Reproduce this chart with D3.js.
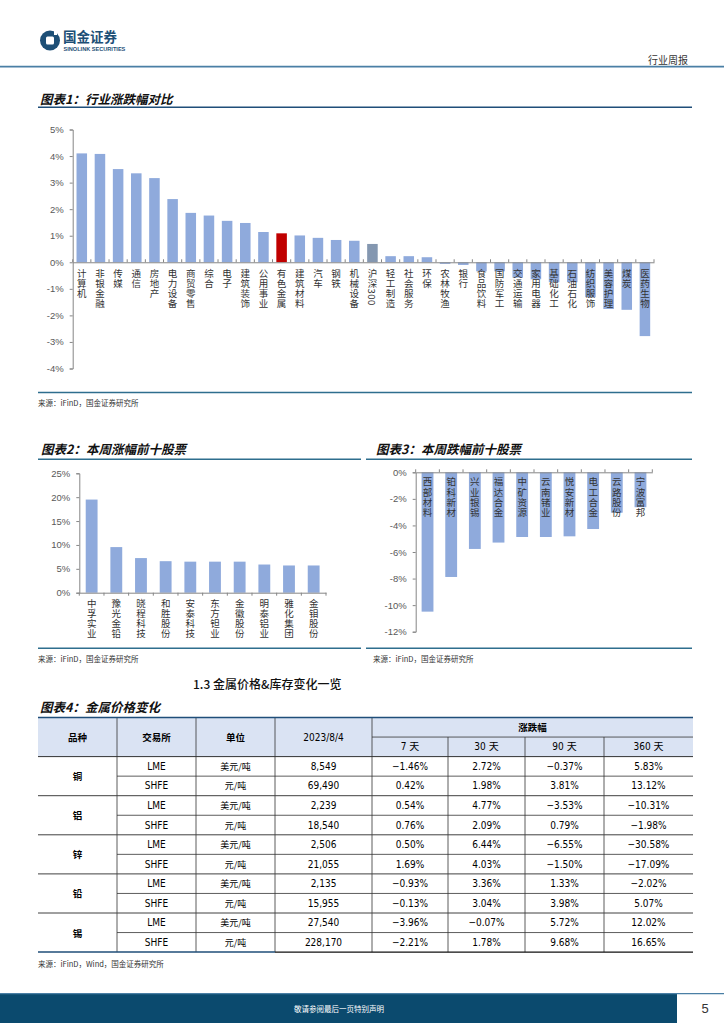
<!DOCTYPE html>
<html><head><meta charset="utf-8">
<script src="https://cdn.jsdelivr.net/npm/d3@7"></script>
<style>body{margin:0;background:#fff}svg{display:block}</style>
</head><body><svg id="c" width="724" height="1024"></svg>
<script>
// ---------- DATA ----------
const industryNames = ["计算机","非银金融","传媒","通信","房地产","电力设备","商贸零售","综合","电子","建筑装饰","公用事业","有色金属","建筑材料","汽车","钢铁","机械设备","沪深300","轻工制造","社会服务","环保","农林牧渔","银行","食品饮料","国防军工","交通运输","家用电器","基础化工","石油石化","纺织服饰","美容护理","煤炭","医药生物"];
const industryValues = [4.10,4.08,3.51,3.35,3.17,2.38,1.86,1.76,1.56,1.48,1.14,1.09,1.01,0.92,0.84,0.81,0.69,0.23,0.23,0.19,-0.06,-0.10,-0.34,-0.34,-0.58,-0.64,-0.75,-0.75,-1.31,-1.76,-1.79,-2.78];
const industryTicks = [5,4,3,2,1,0,-1,-2,-3,-4];
const highlightName = "有色金属";
const indexName = "沪深300";

const gainerNames = ["中孚实业","豫光金铅","晓程科技","和胜股份","安泰科技","东方钽业","金徽股份","明泰铝业","雅化集团","金钼股份"];
const gainerValues = [19.5,9.55,7.25,6.6,6.5,6.5,6.5,5.9,5.7,5.7];
const gainerTicks = [0,5,10,15,20,25];

const loserNames = ["西部材料","铂科新材","兴业银锡","福达合金","中矿资源","云南锗业","悦安新材","电工合金","云路股份","宁波富邦"];
const loserValues = [-10.49,-7.88,-5.77,-5.29,-4.87,-4.87,-4.82,-4.27,-3.04,-2.63];
const loserTicks = [0,-2,-4,-6,-8,-10,-12];

const tableHeaders = ["品种","交易所","单位","2023/8/4"];
const changeHeader = "涨跌幅";
const periodHeaders = ["7 天","30 天","90 天","360 天"];
const metals = ["铜","铝","锌","铅","锡"];
const exchanges = ["LME","SHFE","LME","SHFE","LME","SHFE","LME","SHFE","LME","SHFE"];
const units = ["美元/吨","元/吨","美元/吨","元/吨","美元/吨","元/吨","美元/吨","元/吨","美元/吨","元/吨"];
const prices = [8549,69490,2239,18540,2506,21055,2135,15955,27540,228170];
const chg7 = [-1.46,0.42,0.54,0.76,0.50,1.69,-0.93,-0.13,-3.96,-2.21];
const chg30 = [2.72,1.98,4.77,2.09,6.44,4.03,3.36,3.04,-0.07,1.78];
const chg90 = [-0.37,3.81,-3.53,0.79,-6.55,-1.50,1.33,3.98,5.72,9.68];
const chg360 = [5.83,13.12,-10.31,-1.98,-30.58,-17.09,-2.02,5.07,12.02,16.65];

// ---------- STYLE ----------
const CJK = "'Noto Sans CJK SC','Noto Sans',sans-serif";
const LAT = "'Liberation Sans',Arial,sans-serif";
const NARROW = "'DejaVu Sans Condensed','Liberation Sans Narrow','Noto Sans CJK SC',sans-serif";
const BAR = "#8FAADC", RED = "#C00000", GREYBAR = "#8497B0";
const DARKBLUE = "#1F4E79", TEAL = "#2E6E8E";

const svg = d3.select("#c");
svg.append("rect").attr("width",724).attr("height",1024).attr("fill","#fff");

// ---------- HEADER ----------
const logo = svg.append("g");
logo.append("circle").attr("cx",50).attr("cy",40.5).attr("r",10).attr("fill","#1D4F76");
logo.append("rect").attr("x",46).attr("y",36.5).attr("width",8).attr("height",8).attr("rx",1.5).attr("fill","#fff");
logo.append("rect").attr("x",54).attr("y",29).attr("width",3).attr("height",6).attr("fill","#fff");
svg.append("text").attr("x",63).attr("y",35.5).attr("dominant-baseline","central")
  .attr("font-family",CJK).attr("font-weight","bold").attr("font-size",13.5).attr("fill","#1D4F76").text("国金证券");
svg.append("text").attr("x",63.5).attr("y",49).attr("dominant-baseline","central")
  .attr("font-family",LAT).attr("font-weight","bold").attr("font-size",5.6).attr("fill","#1D4F76").text("SINOLINK SECURITIES");
svg.append("text").attr("x",688).attr("y",59).attr("text-anchor","end").attr("dominant-baseline","central")
  .attr("font-family",CJK).attr("font-size",10).attr("fill","#333").text("行业周报");
svg.append("line").attr("x1",0).attr("x2",724).attr("y1",66.7).attr("y2",66.7).attr("stroke","#4A7FA5").attr("stroke-width",1.8);

function title(x,y,t){
  svg.append("text").attr("x",x).attr("y",y).attr("dominant-baseline","central")
    .attr("font-family",CJK).attr("font-weight","bold").attr("font-style","italic")
    .attr("font-size",12.5).attr("fill","#111").text(t);
}
function hline(x1,x2,y,c,w){
  svg.append("line").attr("x1",x1).attr("x2",x2).attr("y1",y).attr("y2",y).attr("stroke",c).attr("stroke-width",w);
}
function source(x,y,t){
  svg.append("text").attr("x",x).attr("y",y).attr("dominant-baseline","central")
    .attr("font-family",CJK).attr("font-size",7.5).attr("fill","#333").text(t);
}
// vertical label as one text element in vertical writing mode
function vertLabels(g,names,xpos,top,size,spacing){
  g.selectAll(null).data(names).join("text")
    .attr("x",d=>xpos(d)).attr("y",top)
    .style("writing-mode","vertical-rl")
    .attr("text-anchor","start")
    .attr("font-family",CJK).attr("font-size",size)
    .attr("letter-spacing",spacing)
    .attr("fill","#333").text(d=>d);
}
function styleAxis(g){
  g.select(".domain").attr("stroke","#868686");
  g.selectAll(".tick line").attr("stroke","#868686");
  g.selectAll(".tick text").attr("font-family",LAT).attr("font-size",9.5).attr("fill","#595959");
}

// ---------- CHART 1 ----------
title(40,98.3,"图表1：行业涨跌幅对比");
hline(38,692,107.3,DARKBLUE,1.5);
{
  const x = d3.scaleBand().domain(industryNames).range([72.7,654]).paddingInner(0.42).paddingOuter(0.21);
  const y = d3.scaleLinear().domain([-4,5]).range([368.5,129.5]);
  const g = svg.append("g");
  g.selectAll("rect.bar").data(industryNames).join("rect")
    .attr("x",d=>x(d)).attr("width",x.bandwidth())
    .attr("y",(d,i)=>y(Math.max(0,industryValues[i])))
    .attr("height",(d,i)=>Math.abs(y(industryValues[i])-y(0)))
    .attr("fill",d=>d===highlightName?RED:(d===indexName?GREYBAR:BAR));
  const ya = g.append("g").attr("transform","translate(72.7,0)")
    .call(d3.axisLeft(y).tickValues(industryTicks).tickFormat(d=>d+"%").tickSize(3).tickPadding(6));
  styleAxis(ya);
  const xa = g.append("g").attr("transform",`translate(0,${y(0)})`)
    .call(d3.axisBottom(x).tickSize(0).tickFormat(""));
  xa.select(".domain").attr("stroke","#868686");
  const step = x.step();
  g.selectAll("line.tk").data(d3.range(industryNames.length+1)).join("line")
    .attr("x1",i=>72.7+i*step).attr("x2",i=>72.7+i*step)
    .attr("y1",y(0)).attr("y2",y(0)-3).attr("stroke","#868686");
  vertLabels(g,industryNames,d=>x(d)+x.bandwidth()/2,268.5,9.5,0.5);
}
hline(38,692,392.5,TEAL,1.5);
source(38,402,"来源：iFinD，国金证券研究所");

// ---------- CHART 2 ----------
title(41,448,"图表2：本周涨幅前十股票");
hline(38,361,459.3,TEAL,1.5);
{
  const x = d3.scaleBand().domain(gainerNames).range([79.3,326]).paddingInner(0.52).paddingOuter(0.26);
  const y = d3.scaleLinear().domain([0,25]).range([592.7,473.3]);
  const g = svg.append("g");
  g.selectAll("rect").data(gainerNames).join("rect")
    .attr("x",d=>x(d)).attr("width",x.bandwidth())
    .attr("y",(d,i)=>y(gainerValues[i])).attr("height",(d,i)=>y(0)-y(gainerValues[i]))
    .attr("fill",BAR);
  const ya = g.append("g").attr("transform","translate(79.3,0)")
    .call(d3.axisLeft(y).tickValues(gainerTicks).tickFormat(d=>d+"%").tickSize(3).tickPadding(6));
  styleAxis(ya);
  const xa = g.append("g").attr("transform",`translate(0,${y(0)})`).call(d3.axisBottom(x).tickSize(0).tickFormat(""));
  xa.select(".domain").attr("stroke","#868686");
  const step = x.step();
  g.selectAll("line.tk").data(d3.range(gainerNames.length+1)).join("line")
    .attr("x1",i=>79.3+i*step).attr("x2",i=>79.3+i*step)
    .attr("y1",y(0)).attr("y2",y(0)+3).attr("stroke","#868686");
  vertLabels(g,gainerNames,d=>x(d)+x.bandwidth()/2,598.5,9.5,0.7);
}
hline(38,361,648.3,TEAL,1.5);
source(38,658,"来源：iFinD，国金证券研究所");

// ---------- CHART 3 ----------
title(376,448,"图表3：本周跌幅前十股票");
hline(366,692,459.3,TEAL,1.5);
{
  const x = d3.scaleBand().domain(loserNames).range([415.7,652.3]).paddingInner(0.5).paddingOuter(0.25);
  const y = d3.scaleLinear().domain([-12,0]).range([631.7,472.3]);
  const g = svg.append("g");
  g.selectAll("rect").data(loserNames).join("rect")
    .attr("x",d=>x(d)).attr("width",x.bandwidth())
    .attr("y",y(0)).attr("height",(d,i)=>y(loserValues[i])-y(0))
    .attr("fill",BAR);
  const ya = g.append("g").attr("transform","translate(415.7,0)")
    .call(d3.axisLeft(y).tickValues(loserTicks).tickFormat(d=>d+"%").tickSize(3).tickPadding(6));
  styleAxis(ya);
  const xa = g.append("g").attr("transform",`translate(0,${y(0)})`).call(d3.axisTop(x).tickSize(0).tickFormat(""));
  xa.select(".domain").attr("stroke","#868686");
  const step = x.step();
  g.selectAll("line.tk").data(d3.range(loserNames.length+1)).join("line")
    .attr("x1",i=>415.7+i*step).attr("x2",i=>415.7+i*step)
    .attr("y1",y(0)).attr("y2",y(0)-3).attr("stroke","#868686");
  vertLabels(g,loserNames,d=>x(d)+x.bandwidth()/2,477,9.5,0.8);
}
hline(366,692,648.3,TEAL,1.5);
source(373,658,"来源：iFinD，国金证券研究所");

// ---------- SECTION + TABLE ----------
svg.append("text").attr("x",193).attr("y",683).attr("dominant-baseline","central")
  .attr("font-family",CJK).attr("font-size",12).attr("fill","#111").attr("font-weight","500")
  .text("1.3 金属价格&库存变化一览");
title(40,706,"图表4：金属价格变化");
{
  const colX = [38,117,196,275,372,448,525,604,693];
  const top = 717.5, rowH = 19.55;
  const nRows = exchanges.length;
  const hdrBot = top + 2*rowH;
  const bottom = hdrBot + nRows*rowH;
  const cx = i => (colX[i]+colX[i+1])/2;
  const g = svg.append("g");
  const LINE = "#333";
  g.append("rect").attr("x",colX[0]).attr("y",top).attr("width",colX[8]-colX[0]).attr("height",2*rowH).attr("fill","#DAE3F3");
  [1,2,3,4].forEach(i=>g.append("line").attr("x1",colX[i]).attr("x2",colX[i]).attr("y1",top).attr("y2",hdrBot).attr("stroke",LINE).attr("stroke-width",0.8));
  [5,6,7].forEach(i=>g.append("line").attr("x1",colX[i]).attr("x2",colX[i]).attr("y1",top+rowH).attr("y2",hdrBot).attr("stroke",LINE).attr("stroke-width",0.8));
  g.append("line").attr("x1",colX[4]).attr("x2",colX[8]).attr("y1",top+rowH).attr("y2",top+rowH).attr("stroke",LINE).attr("stroke-width",0.8);
  g.append("line").attr("x1",colX[0]).attr("x2",colX[8]).attr("y1",top).attr("y2",top).attr("stroke",DARKBLUE).attr("stroke-width",1.5);
  g.append("line").attr("x1",colX[0]).attr("x2",colX[8]).attr("y1",hdrBot).attr("y2",hdrBot).attr("stroke",LINE).attr("stroke-width",1);
  tableHeaders.forEach((h,i)=>{
    g.append("text").attr("x",cx(i)).attr("y",top+rowH).attr("text-anchor","middle").attr("dominant-baseline","central")
      .attr("font-family",i===3?NARROW:CJK).attr("font-weight",i===3?"normal":"bold").attr("font-size",i===3?10:9.5).attr("fill","#000").text(h);
  });
  g.append("text").attr("x",(colX[4]+colX[8])/2).attr("y",top+rowH/2).attr("text-anchor","middle").attr("dominant-baseline","central")
    .attr("font-family",CJK).attr("font-weight","bold").attr("font-size",9.5).text(changeHeader);
  periodHeaders.forEach((h,i)=>{
    g.append("text").attr("x",cx(4+i)).attr("y",top+1.5*rowH).attr("text-anchor","middle").attr("dominant-baseline","central")
      .attr("font-family",NARROW).attr("font-size",10).text(h);
  });
  for(let i=1;i<=7;i++) g.append("line").attr("x1",colX[i]).attr("x2",colX[i]).attr("y1",hdrBot).attr("y2",bottom).attr("stroke",LINE).attr("stroke-width",0.8);
  for(let r=1;r<nRows;r++){
    const yy = hdrBot + r*rowH;
    const full = r%2===0;
    g.append("line").attr("x1",full?colX[0]:colX[1]).attr("x2",colX[8]).attr("y1",yy).attr("y2",yy)
      .attr("stroke",full?"#404040":LINE).attr("stroke-width",full?1:0.8);
  }
  g.append("line").attr("x1",colX[0]).attr("x2",colX[3]).attr("y1",bottom).attr("y2",bottom).attr("stroke",DARKBLUE).attr("stroke-width",1.5);
  g.append("line").attr("x1",colX[3]).attr("x2",colX[8]).attr("y1",bottom).attr("y2",bottom).attr("stroke","#111").attr("stroke-width",1.3);
  metals.forEach((m,k)=>{
    g.append("text").attr("x",cx(0)).attr("y",hdrBot+(2*k+1)*rowH).attr("text-anchor","middle").attr("dominant-baseline","central")
      .attr("font-family",CJK).attr("font-weight","bold").attr("font-size",9.5).text(m);
  });
  const pct = v => d3.format(".2f")(v)+"%";
  const cols = [exchanges, units, prices.map(d3.format(",")), chg7.map(pct), chg30.map(pct), chg90.map(pct), chg360.map(pct)];
  cols.forEach((arr,c)=>{
    g.selectAll(null).data(arr).join("text")
      .attr("x",cx(c+1)).attr("y",(d,r)=>hdrBot+(r+0.5)*rowH)
      .attr("text-anchor","middle").attr("dominant-baseline","central")
      .attr("font-family",c===1?CJK:NARROW).attr("font-size",c===1?9:10).attr("fill","#000").text(d=>d);
  });
}
source(38,963,"来源：iFinD，Wind，国金证券研究所");

// ---------- FOOTER ----------
svg.append("rect").attr("x",0).attr("y",994).attr("width",677).attr("height",29).attr("fill","#0B4A6E");
hline(0,724,993.6,"#4A7FA5",1.2);
svg.append("text").attr("x",339).attr("y",1008).attr("text-anchor","middle").attr("dominant-baseline","central")
  .attr("font-family",CJK).attr("font-size",7.5).attr("fill","#fff").text("敬请参阅最后一页特别声明");
svg.append("text").attr("x",705).attr("y",1008).attr("text-anchor","middle").attr("dominant-baseline","central")
  .attr("font-family",LAT).attr("font-size",13).attr("fill","#333").text("5");
</script></body></html>
